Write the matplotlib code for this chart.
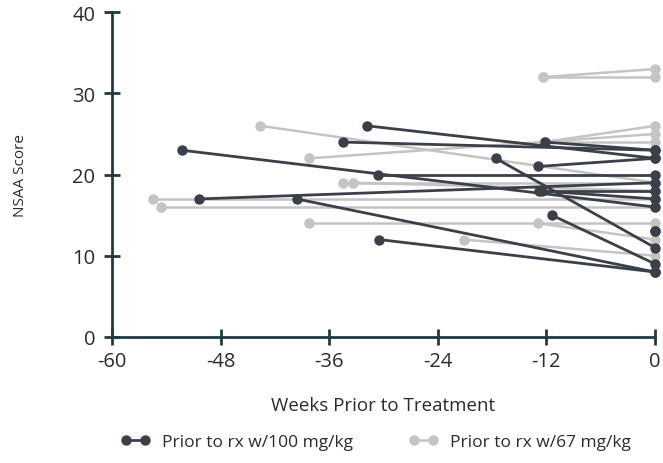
import matplotlib
matplotlib.use("Agg")
import matplotlib.pyplot as plt
from matplotlib.lines import Line2D

plt.rcParams['font.family'] = ['Open Sans', 'DejaVu Sans']

# Group receiving 100 mg/kg: start week, start score, score at week 0
wk100_start = [-52.3, -50.4, -39.6, -31.8, -34.5, -30.6, -30.5, -17.6, -12.2, -12.9, -12.8, -11.4, -12.5, 0.0]
sc100_start = [23, 17, 17, 26, 24, 20, 12, 22, 24, 21, 18, 15, 18, 13]
sc100_end = [16, 19, 8, 22, 23, 20, 8, 11, 23, 22, 17, 9, 18, 13]

# Group receiving 67 mg/kg
wk67_start = [-55.5, -54.6, -43.6, -38.2, -34.5, -33.4, -38.2, -12.4, -12.4, -12.9, -21.1, -12.3, -12.3]
sc67_start = [17, 16, 26, 22, 19, 19, 14, 32, 32, 14, 12, 24, 24]
sc67_end = [17, 16, 19, 25, 19, 18, 14, 33, 32, 12, 10, 26, 24]

labels = ["Prior to rx w/100 mg/kg", "Prior to rx w/67 mg/kg"]
x_ticks = [-60, -48, -36, -24, -12, 0]
y_ticks = [0, 10, 20, 30, 40]

dark = "#3b4048"
light = "#c4c4c4"
axis_col = "#1f3b45"
text_col = "#2b2b2b"

fig = plt.figure(figsize=(6.63, 4.64), dpi=100)
ax = fig.add_axes([0.169, 0.2716, 0.819, 0.700])

for ws, s0, s1 in zip(wk67_start, sc67_start, sc67_end):
    ax.plot([ws, 0], [s0, s1], color=light, lw=1.8, marker='o', ms=6.5,
            solid_capstyle='round', zorder=2, clip_on=False)
for ws, s0, s1 in zip(wk100_start, sc100_start, sc100_end):
    ax.plot([ws, 0], [s0, s1], color=dark, lw=2.0, marker='o', ms=6.5,
            solid_capstyle='round', zorder=3, clip_on=False)

ax.set_xlim(-60, 0)
ax.set_ylim(0, 40)
ax.set_xticks(x_ticks)
ax.set_yticks(y_ticks)
ax.set_xticklabels([str(t) for t in x_ticks])
ax.set_yticklabels([str(t) for t in y_ticks])

for side in ['top', 'right']:
    ax.spines[side].set_visible(False)
for side in ['left', 'bottom']:
    ax.spines[side].set_color(axis_col)
    ax.spines[side].set_linewidth(2.0)

ax.tick_params(axis='both', direction='inout', length=12, width=2.0,
               color=axis_col, labelsize=14.5, labelcolor=text_col)
ax.tick_params(axis='x', pad=4)
ax.tick_params(axis='y', pad=6)

ax.set_xlabel("Weeks Prior to Treatment", fontsize=13.5, color=text_col)
ax.set_ylabel("NSAA Score", fontsize=11, color=text_col)
ax.xaxis.set_label_coords(0.5, -0.183)
ax.yaxis.set_label_coords(-0.155, 0.5)

handles = [Line2D([0], [0], color=dark, lw=2.0, marker='o', ms=6.5),
           Line2D([0], [0], color=light, lw=1.8, marker='o', ms=6.5)]
leg = fig.legend(handles, labels, loc='center', ncol=2, numpoints=2,
                 bbox_to_anchor=(0.567, 0.045), bbox_transform=fig.transFigure,
                 frameon=False, fontsize=12.5, handlelength=1.7, columnspacing=3.2,
                 handletextpad=0.7)
for t in leg.get_texts():
    t.set_color(text_col)

fig.savefig("out.png", dpi=100)
